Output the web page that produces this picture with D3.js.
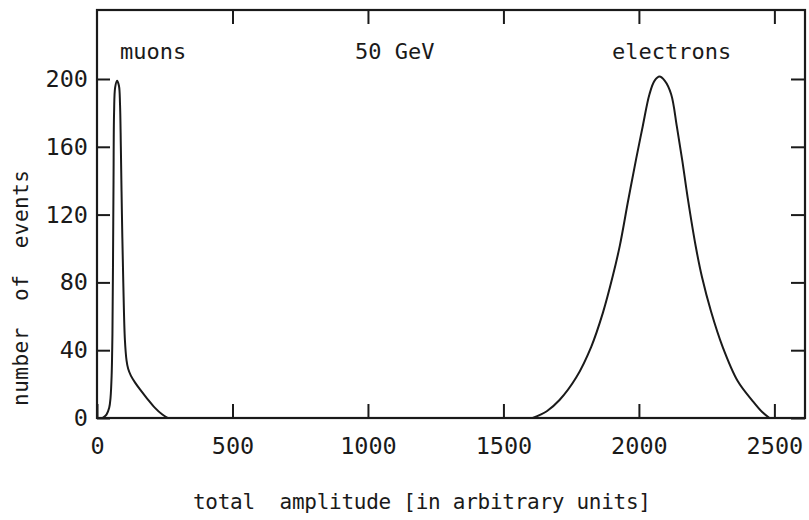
<!DOCTYPE html>
<html lang="en">
<head>
    <meta charset="UTF-8">
    <title>50 GeV amplitude</title>
    <style>
        body{ margin: 0; background: #fff; }
        svg{ display: block; }
        text{ font-family: "DejaVu Sans Mono", monospace; fill: #1a1a1a; white-space: pre; }
        .axis path.domain{ display: none; }
        .axis line{ stroke: #1a1a1a; stroke-width: 2; }
        .axis text{ font-size: 23.5px; }
    </style>
    <script src="https://cdn.jsdelivr.net/npm/d3@7"></script>
</head>
<body>
<script>
    const xTicks = [0, 500, 1000, 1500, 2000, 2500]
    const yTicks = [0, 40, 80, 120, 160, 200]

    const muonX = [20, 35, 45, 50, 54, 57, 59, 61, 63, 67, 74, 81, 85, 88, 92, 97, 103, 109, 115, 125, 140, 158, 185, 214, 240, 262]
    const muonY = [0, 2, 6, 12, 25, 50, 90, 140, 180, 195, 199, 196, 185, 160, 120, 80, 46, 34, 29, 25, 21, 17, 11.5, 6, 2.2, 0]

    const elecX = [1608, 1660, 1707, 1769, 1824, 1867, 1904, 1930, 1960, 1990, 2014, 2039, 2058, 2076, 2095, 2119, 2140, 2160, 2180, 2210, 2233, 2266, 2309, 2364, 2420, 2455, 2482]
    const elecY = [0, 4, 10.6, 24, 42, 62, 84, 102, 128, 153, 172, 191, 199, 201.4, 199, 191, 172, 152, 130, 101, 83, 63, 42, 22, 10, 3.5, 0]

    const labels = [
        {text: "muons", x: 120, y: 53},
        {text: "50 GeV", x: 355, y: 53},
        {text: "electrons", x: 612, y: 53}
    ]

    const W = 809, H = 520
    const margin = {top: 10, right: 4, bottom: 102, left: 97}
    const w = W - margin.left - margin.right
    const h = H - margin.top - margin.bottom

    let svg = d3.select("body").append("svg")
        .attr("width", W).attr("height", H)

    let g = svg.append("g").attr("transform", `translate(${margin.left},${margin.top})`)

    let x = d3.scaleLinear().domain([0, 2613]).range([0, w])
    let y = d3.scaleLinear().domain([0, 240.7]).range([h, 0])

    // axes, ticks pointing inward on all four sides
    g.append("g").attr("class", "axis")
        .attr("transform", `translate(0,${h})`)
        .call(d3.axisBottom(x).tickValues(xTicks).tickFormat(d3.format("d")).tickSizeInner(-14).tickSizeOuter(0).tickPadding(19))
    g.append("g").attr("class", "axis")
        .call(d3.axisTop(x).tickValues(xTicks.slice(1)).tickSizeInner(-14).tickSizeOuter(0).tickFormat(""))
    g.append("g").attr("class", "axis")
        .call(d3.axisLeft(y).tickValues(yTicks).tickSizeInner(-13).tickSizeOuter(0).tickPadding(9))
    g.append("g").attr("class", "axis")
        .attr("transform", `translate(${w},0)`)
        .call(d3.axisRight(y).tickValues(yTicks).tickSizeInner(-14).tickSizeOuter(0).tickFormat(""))

    g.append("rect")
        .attr("width", w).attr("height", h)
        .attr("fill", "none").attr("stroke", "#1a1a1a").attr("stroke-width", 2.2)

    let line = d3.line()
        .x(d => x(d[0]))
        .y(d => y(d[1]))
        .curve(d3.curveCatmullRom.alpha(0.5))

    let series = [d3.zip(muonX, muonY), d3.zip(elecX, elecY)]
    g.selectAll(".curve")
        .data(series)
        .enter()
        .append("path")
        .attr("class", "curve")
        .attr("d", line)
        .attr("fill", "none")
        .attr("stroke", "#1a1a1a")
        .attr("stroke-width", 2)

    svg.selectAll(".lbl")
        .data(labels)
        .enter()
        .append("text")
        .attr("class", "lbl")
        .attr("x", d => d.x).attr("y", d => d.y)
        .attr("dominant-baseline", "middle")
        .style("font-size", "22px")
        .text(d => d.text)

    svg.append("text")
        .attr("x", 193).attr("y", 503)
        .attr("dominant-baseline", "middle")
        .attr("textLength", 458)
        .style("font-size", "21px")
        .text("total  amplitude [in arbitrary units]")

    svg.append("text")
        .attr("transform", "translate(22,288) rotate(-90)")
        .attr("text-anchor", "middle")
        .attr("dominant-baseline", "middle")
        .attr("textLength", 236)
        .style("font-size", "21px")
        .text("number  of  events")
</script>
</body>
</html>
